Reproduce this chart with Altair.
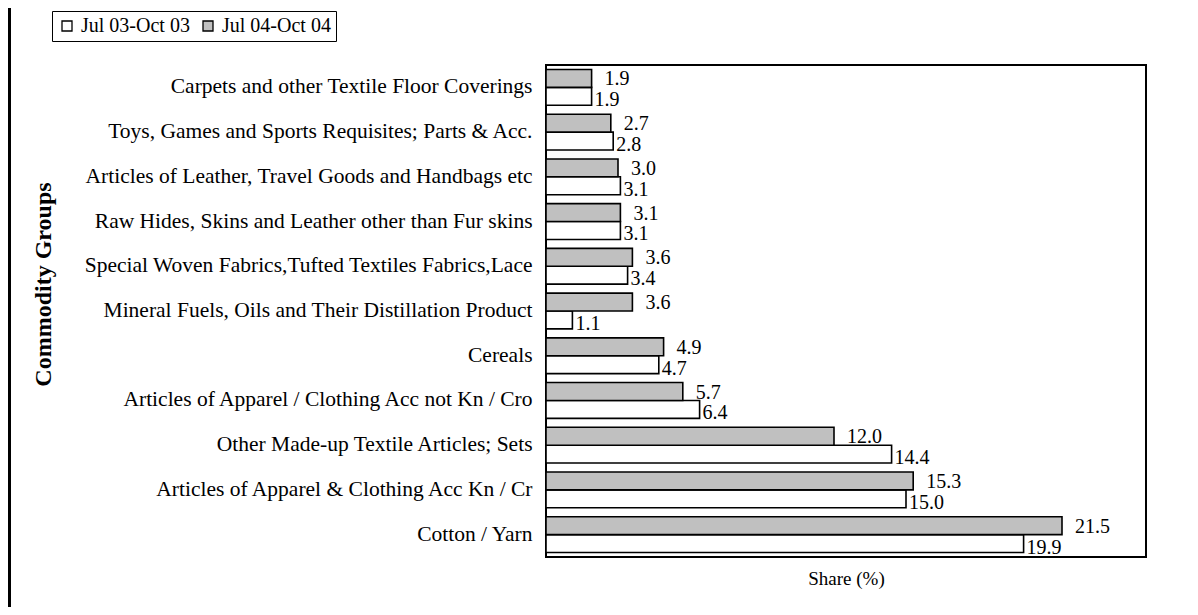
import altair as alt
import pandas as pd

categories = [
    "Carpets and other Textile Floor Coverings",
    "Toys, Games and Sports Requisites; Parts & Acc.",
    "Articles of Leather, Travel Goods and Handbags etc",
    "Raw Hides, Skins and Leather other than Fur skins",
    "Special Woven Fabrics,Tufted Textiles Fabrics,Lace",
    "Mineral Fuels, Oils and Their Distillation Product",
    "Cereals",
    "Articles of Apparel / Clothing Acc not Kn / Cro",
    "Other Made-up Textile Articles; Sets",
    "Articles of Apparel & Clothing Acc Kn / Cr",
    "Cotton / Yarn",
]
series = ["Jul 03-Oct 03", "Jul 04-Oct 04"]
vals_03 = [1.9, 2.8, 3.1, 3.1, 3.4, 1.1, 4.7, 6.4, 14.4, 15.0, 19.9]
vals_04 = [1.9, 2.7, 3.0, 3.1, 3.6, 3.6, 4.9, 5.7, 12.0, 15.3, 21.5]

rows = []
for c, a, b in zip(categories, vals_03, vals_04):
    rows.append({"cat": c, "series": series[0], "value": a})
    rows.append({"cat": c, "series": series[1], "value": b})
df = pd.DataFrame(rows)
df["label"] = df["value"].map(lambda v: f"{v:.1f}")

FONT = "Liberation Serif"

y_enc = alt.Y("cat:N", sort=categories,
              scale=alt.Scale(paddingInner=0.2, paddingOuter=0.1),
              axis=alt.Axis(title="Commodity Groups", ticks=False, domain=False,
                            labelFont=FONT, labelFontSize=21.5, labelColor="black",
                            labelPadding=14, labelLimit=520,
                            titleFont=FONT, titleFontSize=24, titleFontWeight="bold",
                            titleColor="black", titleX=-503, titleY=219,
                            titleAngle=-90, titleAlign="center", titleBaseline="middle"))
yoff = alt.YOffset("series:N", scale=alt.Scale(domain=[series[1], series[0]]))
x_enc = alt.X("value:Q", scale=alt.Scale(domain=[0, 25], nice=False),
              axis=alt.Axis(title="Share (%)", labels=False, ticks=False, grid=False,
                            domain=False, titleFont=FONT, titleFontSize=19,
                            titleFontWeight="normal", titleColor="black",
                            titlePadding=12))

bars = alt.Chart(df).mark_bar(stroke="black", strokeWidth=1.6).encode(
    y=y_enc, yOffset=yoff, x=x_enc,
    fill=alt.Fill("series:N",
                  scale=alt.Scale(domain=series, range=["#ffffff", "#c0c0c0"]),
                  legend=alt.Legend(title=None, orient="none", legendX=-494, legendY=-54,
                                    direction="horizontal", symbolType="square",
                                    symbolSize=100, symbolStrokeColor="black",
                                    symbolStrokeWidth=1.3, labelFont=FONT,
                                    labelFontSize=20, labelColor="black",
                                    strokeColor="black", padding=5,
                                    columnPadding=8, labelOffset=4)),
)

lab_gray = alt.Chart(df).transform_filter(alt.datum.series == series[1]).mark_text(
    align="left", baseline="middle", dx=13, dy=1, font=FONT, fontSize=20, color="black"
).encode(y=alt.Y("cat:N", sort=categories), yOffset=yoff, x="value:Q", text="label:N")

lab_white = alt.Chart(df).transform_filter(alt.datum.series == series[0]).mark_text(
    align="left", baseline="middle", dx=3, dy=4, font=FONT, fontSize=20, color="black"
).encode(y=alt.Y("cat:N", sort=categories), yOffset=yoff, x="value:Q", text="label:N")

frame_line = alt.Chart(df).mark_rule(color="black", strokeWidth=2.5).encode(
    x=alt.value(-537), y=alt.value(-60), y2=alt.value(560)
)

chart = alt.layer(bars, lab_gray, lab_white, frame_line).properties(
    width=600, height=492,
    padding={"left": 538, "top": 57, "right": 44, "bottom": 50},
    autosize=alt.AutoSizeParams(type="none"),
).configure_view(stroke="black", strokeWidth=2)

chart.save("out.html", embed_options={"renderer": "svg", "actions": False})
